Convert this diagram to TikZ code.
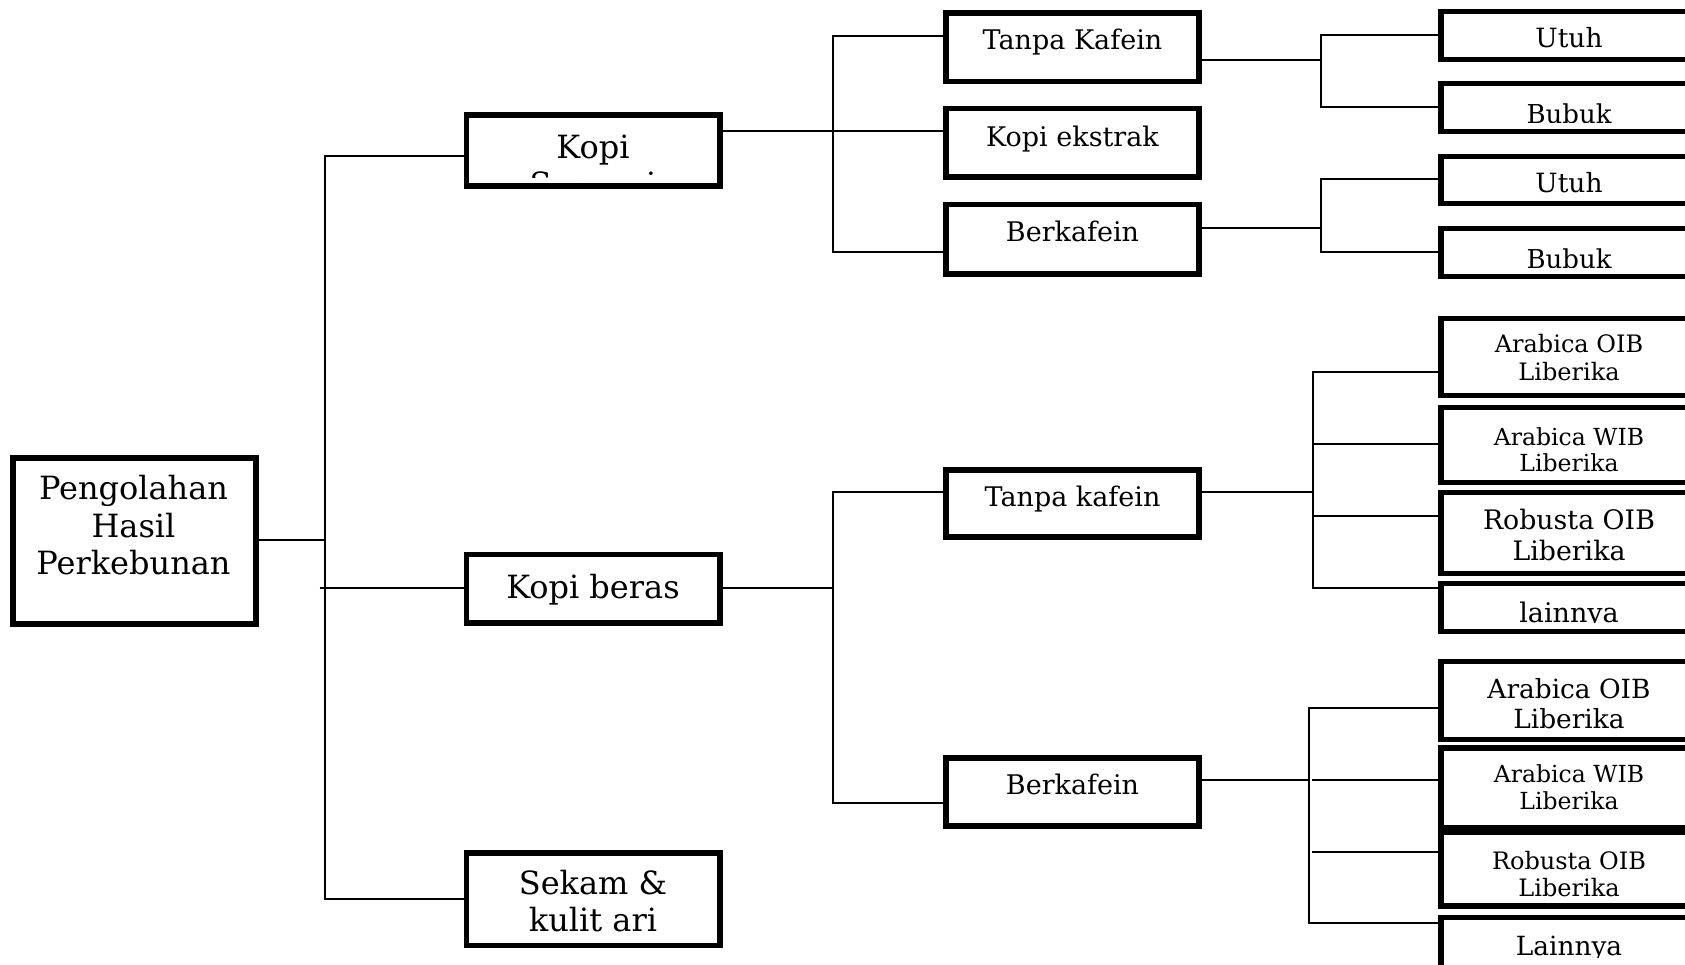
\documentclass[tikz,border=0pt]{standalone}
\usepackage{fontspec}
\setmainfont{DejaVu Serif}
\usetikzlibrary{fit}
\newcommand\fsz[1]{\fontsize{#1}{#1}\selectfont}
\newcommand\clipin[1]{\clip (#1.north west) rectangle ([yshift=9pt]#1.south east);}
\tikzset{
  bx/.style={draw, rectangle, line width=5.2pt, inner sep=0pt, outer sep=0pt},
  conn/.style={line width=2pt},
  lbl/.style={anchor=base, inner sep=0pt, outer sep=0pt},
}
\begin{document}
\begin{tikzpicture}[x=1pt,y=-1pt]
\path[use as bounding box] (0,0) rectangle (1685,964);
\clip (0,0) rectangle (1685,964);
\fill[white] (0,0) rectangle (1685,964);

% ---------- boxes ----------
\node[bx, fit={(13,458) (256,624)}] (root) {};
\node[bx, fit={(466.5,115) (720,186)}] (KS) {};
\node[bx, fit={(466.5,554.5) (720,623)}] (KB) {};
\node[bx, fit={(466.5,853) (720,945.5)}] (SK) {};

\node[bx, fit={(946,13) (1199,81.5)}] (TK1) {};
\node[bx, fit={(946,108.5) (1199,177)}] (KE) {};
\node[bx, fit={(946,204.5) (1199,274)}] (BK1) {};
\node[bx, fit={(946,470) (1199,537)}] (TK2) {};
\node[bx, fit={(946,758) (1199,826)}] (BK2) {};

\node[bx, fit={(1441,11.7) (1697,59.7)}] (U1) {};
\node[bx, fit={(1441,83.3) (1697,131.7)}] (Bu1) {};
\node[bx, fit={(1441,156.3) (1697,203.3)}] (U2) {};
\node[bx, fit={(1441,228.3) (1697,276.7)}] (Bu2) {};

\node[bx, fit={(1441,318.3) (1697,395.8)}] (A1) {};
\node[bx, fit={(1441,407.5) (1697,482.5)}] (A2) {};
\node[bx, fit={(1441,492.5) (1697,573.5)}] (A3) {};
\node[bx, fit={(1441,583.5) (1697,631.7)}] (A4) {};

\node[bx, fit={(1441,661.5) (1697,739.7)}] (B1) {};
\node[bx, fit={(1441,748) (1697,828)}] (B2) {};
\node[bx, fit={(1441,832) (1697,906)}] (B3) {};
\node[bx, fit={(1441,917.5) (1697,975)}] (B4) {};

% ---------- connectors ----------
\coordinate (t0) at (324.5,539.5);
\coordinate (t1) at (324.5,155.8);
\coordinate (t2) at (324.5,587.8);
\coordinate (t3) at (324.5,899.4);
\draw[conn] (root.east |- t0) -- (t0);
\draw[conn] (t1 -| KS.west) -- (t1) -- (t3) -- (t3 -| SK.west);
\draw[conn] ([xshift=-5pt]t2) -- (t2 -| KB.west);

\coordinate (u0) at (832.8,131);
\coordinate (u1) at (832.8,35.5);
\coordinate (u3) at (832.8,251.5);
\draw[conn] (KS.east |- u0) -- (u0 -| KE.west);
\draw[conn] (u1 -| TK1.west) -- (u1) -- (u3) -- (u3 -| BK1.west);

\coordinate (w0) at (1320.7,60.2);
\coordinate (w1) at (1320.7,34.5);
\coordinate (w2) at (1320.7,107.3);
\draw[conn] (TK1.east |- w0) -- (w0);
\draw[conn] (w1 -| U1.west) -- (w1) -- (w2) -- (w2 -| Bu1.west);

\coordinate (x0) at (1320.7,227.8);
\coordinate (x1) at (1320.7,179.2);
\coordinate (x2) at (1320.7,251.7);
\draw[conn] (BK1.east |- x0) -- (x0);
\draw[conn] (x1 -| U2.west) -- (x1) -- (x2) -- (x2 -| Bu2.west);

\coordinate (y0) at (832.8,587.8);
\coordinate (y1) at (832.8,492);
\coordinate (y2) at (832.8,802.7);
\draw[conn] (KB.east |- y0) -- (y0);
\draw[conn] (y1 -| TK2.west) -- (y1) -- (y2) -- (y2 -| BK2.west);

\coordinate (z0) at (1313.2,492);
\coordinate (z1) at (1313.2,371.5);
\coordinate (z2) at (1313.2,444);
\coordinate (z3) at (1313.2,515.5);
\coordinate (z4) at (1313.2,587.8);
\draw[conn] (TK2.east |- z0) -- (z0);
\draw[conn] (z1 -| A1.west) -- (z1) -- (z4) -- (z4 -| A4.west);
\draw[conn] (z2) -- (z2 -| A2.west);
\draw[conn] (z3) -- (z3 -| A3.west);

\coordinate (g0) at (1309,779.5);
\coordinate (g1) at (1309,708);
\coordinate (g2) at (1312,779.5);
\coordinate (g3) at (1312,852);
\coordinate (g4) at (1309,923.3);
\draw[conn] (BK2.east |- g0) -- (g0);
\draw[conn] (g1 -| B1.west) -- (g1) -- (g4) -- (g4 -| B4.west);
\draw[conn] (g2) -- (g2 -| B2.west);
\draw[conn] (g3) -- (g3 -| B3.west);

% ---------- texts ----------
\begin{scope}\clipin{root}
\node[lbl, font=\fsz{32}] (rootA) at (133.5,499.5) {Pengolahan};
\node[lbl, font=\fsz{32}] (rootB) at (133.5,537.5) {Hasil};
\node[lbl, font=\fsz{32}] (rootC) at (133.5,574.5) {Perkebunan};
\end{scope}
\begin{scope}\clipin{KS}
\node[lbl, font=\fsz{32}] (KSa) at (593,158) {Kopi};
\node[lbl, font=\fsz{32}] (KSb) at (593,195) {Sangrai};
\end{scope}
\begin{scope}\clipin{KB}
\node[lbl, font=\fsz{32}] (KBa) at (593,598) {Kopi beras};
\end{scope}
\begin{scope}\clipin{SK}
\node[lbl, font=\fsz{32}] (SKa) at (593,894.5) {Sekam \&};
\node[lbl, font=\fsz{32}] (SKb) at (593,931.5) {kulit ari};
\end{scope}

\begin{scope}\clipin{TK1}
\node[lbl, font=\fsz{27}] (TK1a) at (1072.5,49.5) {Tanpa Kafein};
\end{scope}
\begin{scope}\clipin{KE}
\node[lbl, font=\fsz{27}] (KEa) at (1072.5,146) {Kopi ekstrak};
\end{scope}
\begin{scope}\clipin{BK1}
\node[lbl, font=\fsz{27}] (BK1a) at (1072.5,241.7) {Berkafein};
\end{scope}
\begin{scope}\clipin{TK2}
\node[lbl, font=\fsz{27}] (TK2a) at (1072.5,506) {Tanpa kafein};
\end{scope}
\begin{scope}\clipin{BK2}
\node[lbl, font=\fsz{27}] (BK2a) at (1072.5,794) {Berkafein};
\end{scope}

\begin{scope}\clipin{U1}
\node[lbl, font=\fsz{26.5}] (U1a) at (1569,47.7) {Utuh};
\end{scope}
\begin{scope}\clipin{Bu1}
\node[lbl, font=\fsz{26}] (Bu1a) at (1569,123) {Bubuk};
\end{scope}
\begin{scope}\clipin{U2}
\node[lbl, font=\fsz{26.5}] (U2a) at (1569,192.7) {Utuh};
\end{scope}
\begin{scope}\clipin{Bu2}
\node[lbl, font=\fsz{26}] (Bu2a) at (1569,268) {Bubuk};
\end{scope}

\begin{scope}\clipin{A1}
\node[lbl, font=\fsz{24}] (A1a) at (1569,352.7) {Arabica OIB};
\node[lbl, font=\fsz{24}] (A1b) at (1569,380) {Liberika};
\end{scope}
\begin{scope}\clipin{A2}
\node[lbl, font=\fsz{23.5}] (A2a) at (1569,445) {Arabica WIB};
\node[lbl, font=\fsz{23.5}] (A2b) at (1569,471.7) {Liberika};
\end{scope}
\begin{scope}\clipin{A3}
\node[lbl, font=\fsz{26.8}] (A3a) at (1569,529.3) {Robusta OIB};
\node[lbl, font=\fsz{26.8}] (A3b) at (1569,560.7) {Liberika};
\end{scope}
\begin{scope}\clipin{A4}
\node[lbl, font=\fsz{27}] (A4a) at (1569,622.5) {lainnya};
\end{scope}

\begin{scope}\clipin{B1}
\node[lbl, font=\fsz{26.4}] (B1a) at (1569,698.3) {Arabica OIB};
\node[lbl, font=\fsz{26.4}] (B1b) at (1569,728.3) {Liberika};
\end{scope}
\begin{scope}\clipin{B2}
\node[lbl, font=\fsz{23.5}] (B2a) at (1569,782.3) {Arabica WIB};
\node[lbl, font=\fsz{23.5}] (B2b) at (1569,809.3) {Liberika};
\end{scope}
\begin{scope}\clipin{B3}
\node[lbl, font=\fsz{24}] (B3a) at (1569,869.3) {Robusta OIB};
\node[lbl, font=\fsz{24}] (B3b) at (1569,896) {Liberika};
\end{scope}
\begin{scope}\clip (B4.north west) rectangle (1697,957.5);
\node[lbl, font=\fsz{26.4}] (B4a) at (1569,955) {Lainnya};
\end{scope}
\end{tikzpicture}
\end{document}
